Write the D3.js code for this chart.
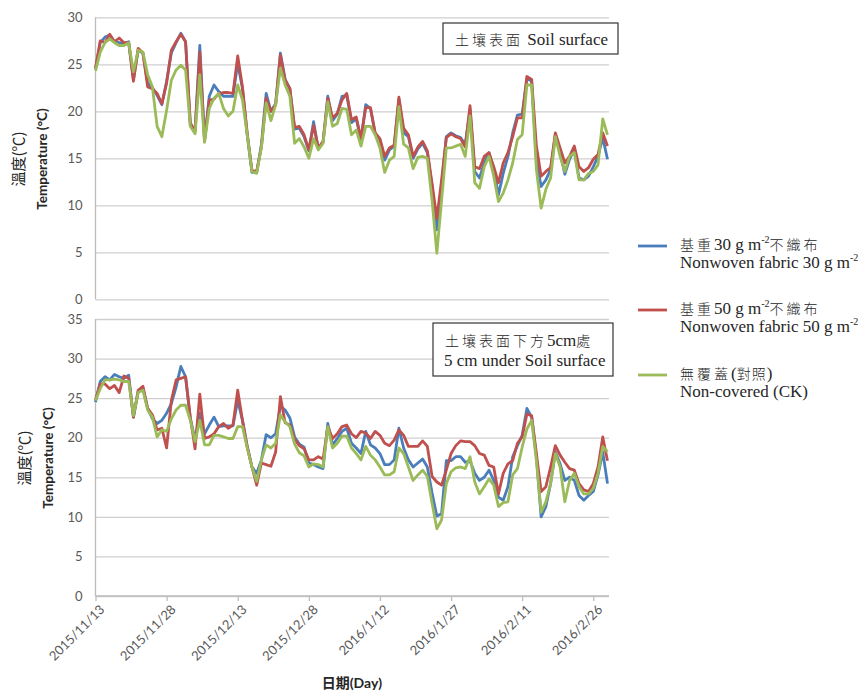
<!DOCTYPE html>
<html lang="zh-Hant">
<head>
    <meta charset="UTF-8">
    <title>Soil temperature</title>
    <script src="https://d3js.org/d3.v7.min.js"></script>
    <style>
        body { margin: 0; background: #fff; }
        .tick-label { font-family: Lato, "Liberation Sans", sans-serif; font-size: 13px; fill: #595959; }
        .date-label { font-family: Lato, "Liberation Sans", sans-serif; font-size: 13px; fill: #595959; }
        .serif { font-family: "Liberation Serif", "Noto Sans CJK TC", serif; font-size: 17px; fill: #262626; }
        .cjk { font-family: "Noto Sans CJK TC", sans-serif; font-size: 14px; font-weight: 300; }
        .axis-title { font-family: Lato, "Noto Sans CJK TC", sans-serif; font-size: 13.5px; fill: #262626; }
    </style>
</head>
<body>
<script>
    // daily readings, 2015/11/13 - 2016/2/29
    let dates = d3.timeDay.range(new Date(2015, 10, 13), new Date(2016, 2, 1));
    let tickLabels = ["2015/11/13", "2015/11/28", "2015/12/13", "2015/12/28",
        "2016/1/12", "2016/1/27", "2016/2/11", "2016/2/26"];
    let topTicks = [0, 5, 10, 15, 20, 25, 30];
    let bottomTicks = [0, 5, 10, 15, 20, 25, 30, 35];
    let colors = ["#4a7ebb", "#c0504d", "#9bbb59"];

    // soil surface
    let surface30 = [
        24.5, 27.3, 27.9, 28.1, 27.4, 27.3, 27.2, 27.4, 23.4, 26.5,
        26.2, 23.0, 22.5, 21.7, 20.7, 23.2, 26.2, 27.3, 28.3, 27.4,
        18.5, 18.0, 27.0, 16.9, 21.6, 22.8, 22.1, 21.6, 21.6, 21.6,
        25.1, 22.4, 17.5, 13.5, 13.5, 16.5, 21.9, 20.0, 20.8, 26.2,
        23.4, 22.4, 18.1, 18.2, 17.3, 15.8, 18.9, 16.0, 16.7, 21.6,
        19.0, 19.7, 21.6, 21.7, 18.8, 19.2, 17.0, 20.7, 20.3, 17.6,
        16.9, 14.8, 15.9, 16.3, 21.3, 17.7, 17.3, 15.0, 16.0, 16.6,
        15.6, 12.0, 7.4, 12.0, 17.3, 17.7, 17.4, 17.2, 16.5, 20.2,
        13.6, 12.9, 14.5, 15.6, 13.8, 11.1, 13.4, 15.2, 17.7, 19.6,
        19.7, 23.5, 23.2, 14.9, 12.0, 12.7, 13.8, 17.5, 15.6, 13.3,
        14.9, 15.9, 12.9, 12.7, 13.1, 14.1, 15.2, 17.2, 14.9];
    let surface50 = [
        24.6, 27.5, 27.3, 28.2, 27.4, 27.8, 27.3, 27.3, 23.2, 26.7,
        26.2, 22.6, 22.4, 21.9, 20.8, 23.0, 26.5, 27.4, 28.2, 27.4,
        18.8, 17.8, 26.3, 16.8, 21.2, 21.3, 21.9, 22.0, 22.0, 21.9,
        25.9, 22.6, 17.7, 13.7, 13.6, 16.2, 21.4, 20.0, 20.7, 26.0,
        23.3, 22.4, 18.3, 18.4, 17.5, 15.9, 18.5, 16.1, 16.8, 21.4,
        19.3, 19.8, 21.2, 21.9, 19.1, 19.4, 17.1, 20.4, 20.4, 17.7,
        17.1, 15.2, 16.1, 16.4, 21.5, 18.2, 17.5, 15.2, 16.2, 16.8,
        15.8, 12.3, 8.6, 12.7, 17.2, 17.6, 17.3, 17.1, 16.2, 20.6,
        14.1, 13.9, 15.2, 15.6, 14.1, 12.4, 14.5, 15.6, 17.3, 19.3,
        19.3, 23.7, 23.4, 16.3, 13.1, 13.6, 14.0, 17.7, 16.1, 14.5,
        15.2, 16.3, 14.1, 13.6, 14.0, 14.9, 15.4, 17.7, 16.3];
    let surfaceCK = [
        24.3, 26.3, 27.3, 27.7, 27.3, 27.0, 27.0, 27.3, 24.2, 26.5,
        26.3, 23.9, 22.6, 18.4, 17.3, 20.1, 23.3, 24.4, 24.9, 24.4,
        18.4, 17.6, 23.9, 16.7, 20.3, 21.4, 21.9, 20.3, 19.5, 20.0,
        22.8, 21.2, 17.5, 13.6, 13.4, 16.2, 20.9, 19.0, 20.7, 24.6,
        22.8, 21.6, 16.6, 17.1, 16.2, 15.0, 17.1, 15.9, 16.6, 21.0,
        18.4, 18.7, 20.3, 20.2, 17.5, 18.0, 16.3, 18.4, 18.4, 17.5,
        16.1, 13.5, 14.8, 15.2, 20.5, 16.5, 16.1, 13.9, 15.1, 15.2,
        15.0, 10.5, 4.9, 10.5, 16.1, 16.1, 16.3, 16.5, 15.2, 19.5,
        12.4, 11.8, 14.1, 15.2, 13.1, 10.4, 11.3, 12.7, 14.5, 17.0,
        17.5, 22.8, 22.8, 13.8, 9.7, 11.7, 12.9, 17.3, 15.2, 13.6,
        15.2, 15.6, 12.7, 12.7, 13.4, 13.6, 14.3, 19.2, 17.5];

    // 5 cm under soil surface
    let under30 = [
        24.5, 27.1, 27.7, 27.3, 28.0, 27.7, 27.5, 27.9, 22.6, 25.8,
        26.3, 23.7, 22.4, 21.8, 22.2, 23.1, 24.3, 26.4, 29.0, 27.7,
        22.4, 19.8, 23.1, 20.5, 21.6, 22.6, 21.4, 21.5, 21.5, 21.5,
        24.7, 22.2, 18.9, 16.3, 15.5, 17.2, 20.4, 20.0, 20.5, 24.0,
        23.5, 22.5, 20.1, 19.2, 18.8, 16.8, 16.6, 16.3, 16.1, 21.8,
        19.1, 19.9, 20.8, 21.2, 19.3, 18.7, 18.0, 20.8, 19.1, 18.7,
        18.0, 16.6, 16.6, 17.2, 21.2, 18.7, 17.2, 16.3, 16.8, 17.3,
        16.3, 13.0, 10.1, 10.4, 17.1, 17.1, 17.6, 17.6, 16.9, 17.1,
        15.5, 14.6, 15.0, 15.9, 14.6, 12.5, 12.1, 13.8, 17.6, 19.0,
        20.3, 23.7, 22.6, 17.6, 10.0, 11.3, 14.2, 18.2, 16.7, 14.6,
        15.0, 14.6, 12.7, 12.1, 12.7, 13.2, 15.3, 18.2, 14.2];
    let under50 = [
        24.8, 26.8, 26.8, 26.2, 26.6, 25.7, 27.8, 27.5, 22.6, 26.0,
        26.5, 23.7, 22.9, 21.0, 21.2, 18.7, 24.7, 27.3, 27.5, 27.7,
        22.6, 18.6, 25.5, 19.9, 20.1, 20.5, 21.4, 21.8, 21.2, 21.6,
        26.0, 22.2, 18.9, 16.3, 14.0, 16.8, 16.6, 16.4, 18.2, 25.2,
        21.9, 21.6, 19.8, 19.0, 18.6, 17.2, 17.2, 17.6, 17.3, 21.4,
        19.9, 20.5, 21.4, 21.6, 20.5, 20.0, 20.8, 20.6, 19.9, 20.8,
        20.3, 19.3, 19.0, 19.7, 21.0, 20.3, 18.9, 18.9, 18.9, 19.6,
        18.9, 15.1, 14.4, 14.0, 15.9, 18.0, 19.0, 19.6, 19.5, 19.5,
        19.0, 18.0, 17.8, 16.5, 16.3, 12.9, 15.5, 16.7, 17.1, 19.3,
        20.1, 23.0, 22.8, 18.0, 13.2, 13.8, 16.3, 19.0, 17.8, 16.9,
        16.1, 15.9, 14.2, 13.4, 13.2, 14.2, 16.3, 20.1, 17.1];
    let underCK = [
        24.7, 26.2, 27.3, 27.3, 27.4, 27.3, 27.1, 27.1, 22.8, 25.7,
        26.0, 23.5, 22.6, 20.1, 21.0, 20.8, 22.4, 23.5, 24.1, 24.1,
        22.2, 19.5, 22.2, 19.1, 19.1, 20.3, 20.3, 20.1, 19.9, 19.9,
        21.4, 21.4, 18.7, 16.3, 14.5, 17.2, 19.1, 18.7, 19.3, 22.9,
        22.0, 21.4, 19.2, 18.1, 17.7, 16.3, 16.7, 16.6, 16.3, 21.4,
        18.7, 19.3, 20.2, 20.2, 18.7, 18.0, 17.2, 18.9, 17.8, 17.2,
        16.3, 15.3, 15.3, 15.7, 18.7, 18.0, 16.3, 14.6, 15.3, 15.9,
        15.1, 11.7, 8.5, 9.6, 14.2, 15.7, 16.2, 16.3, 16.1, 17.6,
        14.4, 12.9, 13.8, 14.8, 14.0, 11.3, 11.8, 11.9, 15.3, 16.1,
        18.8, 21.1, 22.2, 17.1, 10.6, 11.9, 14.2, 18.0, 16.3, 11.9,
        14.6, 15.5, 13.8, 12.9, 12.9, 13.6, 15.5, 18.9, 18.2];

    let width = 866;
    let height = 692;
    let plotLeft = 95.5;
    let plotRight = 609;

    let svg = d3.select("body").append("svg")
        .attr("width", width)
        .attr("height", height);

    let x = d3.scaleTime()
        .domain([dates[0], dates[dates.length - 1]])
        .range([plotLeft, 607.5]);

    let tickDates = tickLabels.map(s => {
        let p = s.split("/");
        return new Date(+p[0], +p[1] - 1, +p[2]);
    });

    let line = d3.line()
        .x((d, i) => x(dates[i]))
        .y(d => d);

    function drawPanel(yScale, ticks, series) {
        let g = svg.append("g");

        // grid lines + tick labels
        let axis = d3.axisLeft(yScale)
            .tickValues(ticks)
            .tickSize(-(plotRight - plotLeft))
            .tickPadding(13);
        let ax = g.append("g")
            .attr("transform", "translate(" + plotLeft + ",0)")
            .call(axis);
        ax.select(".domain").remove();
        ax.selectAll(".tick line")
            .attr("stroke", "#cfcfcf")
            .attr("stroke-width", 1.3);
        ax.selectAll(".tick text")
            .attr("class", "tick-label");

        // left axis line
        g.append("line")
            .attr("x1", plotLeft).attr("x2", plotLeft)
            .attr("y1", yScale(ticks[ticks.length - 1]))
            .attr("y2", yScale(0))
            .attr("stroke", "#bdbdbd")
            .attr("stroke-width", 1.3);

        series.forEach((s, k) => {
            g.append("path")
                .datum(s.map(v => yScale(v)))
                .attr("d", line)
                .attr("fill", "none")
                .attr("stroke", colors[k])
                .attr("stroke-width", 2.8)
                .attr("stroke-linejoin", "round");
        });
        return g;
    }

    let yTop = d3.scaleLinear().domain([0, 30]).range([299.3, 17.3]);
    let yBottom = d3.scaleLinear().domain([0, 35]).range([596, 319]);

    drawPanel(yTop, topTicks, [surface30, surface50, surfaceCK]);
    drawPanel(yBottom, bottomTicks, [under30, under50, underCK]);

    // bottom date axis
    let xAxis = d3.axisBottom(x)
        .tickValues(tickDates)
        .tickSize(5)
        .tickFormat((d, i) => tickLabels[i]);
    let xg = svg.append("g")
        .attr("transform", "translate(0,596)")
        .call(xAxis);
    xg.select(".domain")
        .attr("d", "M" + plotLeft + ",0H" + plotRight)
        .attr("stroke", "#bdbdbd")
        .attr("stroke-width", 1.3);
    xg.selectAll(".tick line").attr("stroke", "#bdbdbd").attr("stroke-width", 1.3);
    xg.selectAll(".tick text")
        .attr("class", "date-label")
        .attr("text-anchor", "end")
        .attr("x", 0).attr("y", 0)
        .attr("dy", "0.7em")
        .attr("transform", "translate(3,8) rotate(-45)");

    // axis titles
    function yTitle(cx, cy, zh, en) {
        svg.append("text")
            .attr("class", "axis-title")
            .attr("transform", "translate(" + cx + "," + cy + ") rotate(-90)")
            .attr("text-anchor", "middle")
            .attr("dy", "0.35em")
            .style("font-family", "'Noto Sans CJK TC', sans-serif")
            .style("font-size", "15px")
            .text(zh);
        svg.append("text")
            .attr("class", "axis-title")
            .attr("transform", "translate(" + (cx + 23) + "," + cy + ") rotate(-90)")
            .attr("text-anchor", "middle")
            .attr("dy", "0.35em")
            .attr("font-weight", "bold")
            .text(en);
    }
    yTitle(19, 159, "溫度(℃)", "Temperature (°C)");
    yTitle(25, 458, "溫度(℃)", "Temperature (°C)");

    svg.append("text")
        .attr("class", "axis-title")
        .attr("x", 352).attr("y", 688)
        .attr("text-anchor", "middle")
        .attr("font-weight", "bold")
        .style("font-size", "14px")
        .text("日期(Day)");

    // panel title boxes
    function titleBox(x0, y0, w, h, lines) {
        svg.append("rect")
            .attr("x", x0).attr("y", y0)
            .attr("width", w).attr("height", h)
            .attr("fill", "#fff")
            .attr("stroke", "#333")
            .attr("stroke-width", 1.2);
        lines.forEach(l => {
            let t = svg.append("text")
                .attr("class", "serif")
                .attr("x", l.x).attr("y", l.y);
            l.parts.forEach(p => {
                let ts = t.append("tspan").text(p[0]);
                if (p[1] === "cjk") ts.attr("class", "cjk").attr("letter-spacing", 3);
            });
        });
    }
    titleBox(443, 23, 175, 31, [
        {x: 455, y: 45, parts: [["土壤表面", "cjk"], [" Soil surface"]]}
    ]);
    titleBox(433, 323, 180, 53, [
        {x: 445, y: 346, parts: [["土壤表面下方", "cjk"], ["5cm"], ["處", "cjk"]]},
        {x: 444, y: 366, parts: [["5 cm under Soil surface"]]}
    ]);

    // legend
    let legendRows = [
        {y: 246, zh: ["基重", "30 g m", "-2", "不織布"], en: ["Nonwoven fabric 30 g m", "-2"]},
        {y: 310, zh: ["基重", "50 g m", "-2", "不織布"], en: ["Nonwoven fabric 50 g m", "-2"]},
        {y: 375, zh: ["無覆蓋", "(", "對照", ")"], en: ["Non-covered (CK)"]}
    ];
    legendRows.forEach((r, k) => {
        svg.append("line")
            .attr("x1", 638).attr("x2", 667)
            .attr("y1", r.y).attr("y2", r.y)
            .attr("stroke", colors[k])
            .attr("stroke-width", 2.8);

        let t1 = svg.append("text").attr("class", "serif").attr("x", 680).attr("y", r.y + 4);
        if (k < 2) {
            t1.append("tspan").attr("class", "cjk").attr("letter-spacing", 3).text(r.zh[0]);
            t1.append("tspan").text(r.zh[1]);
            t1.append("tspan").attr("font-size", 10).attr("dy", -7).text(r.zh[2]);
            t1.append("tspan").attr("class", "cjk").attr("letter-spacing", 3).attr("dy", 7).text(r.zh[3]);
        } else {
            t1.append("tspan").attr("class", "cjk").attr("letter-spacing", 3).text(r.zh[0]);
            t1.append("tspan").text(r.zh[1]);
            t1.append("tspan").attr("class", "cjk").attr("letter-spacing", 1).text(r.zh[2]);
            t1.append("tspan").text(r.zh[3]);
        }

        let t2 = svg.append("text").attr("class", "serif").attr("x", 680).attr("y", r.y + 22);
        t2.append("tspan").text(r.en[0]);
        if (r.en[1]) t2.append("tspan").attr("font-size", 10).attr("dy", -7).text(r.en[1]);
    });
</script>
</body>
</html>
